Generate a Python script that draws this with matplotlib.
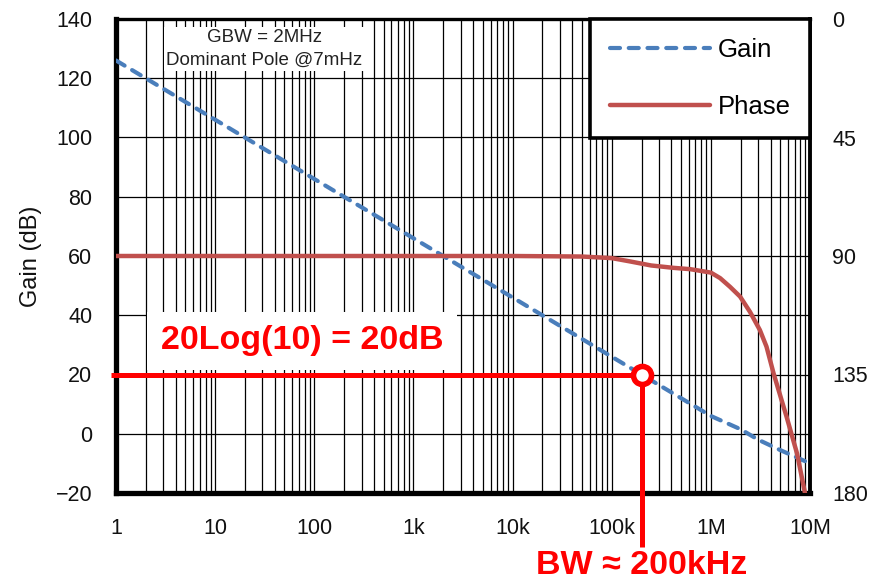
import matplotlib
matplotlib.use("Agg")
import matplotlib.pyplot as plt
import numpy as np

plt.rcParams['font.family'] = ['Liberation Sans', 'DejaVu Sans']

# ---- data ----
gain_freq = [1, 10, 100, 1e3, 1e4, 1e5, 1e6, 2e6, 3e6, 5e6, 1e7]
gain_db = [126, 106, 86, 66, 46, 26, 6, 1.5, -2, -5.5, -10]

phase_freq = [1, 1e3, 1e4, 5e4, 1.0e5, 1.5e5, 2.5e5, 4.2e5, 6.2e5, 1.0e6, 1.24e6, 1.56e6,
              1.97e6, 2.48e6, 3.12e6, 3.64e6, 4.3e6, 5.8e6, 7.4e6, 8.9e6]
phase_deg = [90, 90, 90, 90.2, 90.8, 92.0, 93.6, 94.5, 95.0, 96.3, 98.4, 101.7,
             105.4, 111.2, 118.1, 124.4, 134.7, 151, 165, 180]

xtick_vals = [1, 10, 100, 1e3, 1e4, 1e5, 1e6, 1e7]
xtick_labels = ['1', '10', '100', '1k', '10k', '100k', '1M', '10M']
gain_ticks = [-20, 0, 20, 40, 60, 80, 100, 120, 140]
phase_ticks = [0, 45, 90, 135, 180]

bw_freq = 2e5
bw_gain = 20

blue = '#4A7EBB'
red_phase = '#C0504D'
red = '#FF0000'

fig = plt.figure(figsize=(8.8, 5.81), dpi=100)
ax = fig.add_axes([116/880, 1-493/581, (810-116)/880, (493-19)/581])
ax.set_xscale('log')
ax.set_xlim(1, 1e7)
ax.set_ylim(-20, 140)

# grid
ax.set_yticks(gain_ticks)
ax.set_xticks(xtick_vals)
ax.set_xticklabels(xtick_labels)
ax.xaxis.set_minor_locator(matplotlib.ticker.LogLocator(base=10, subs=np.arange(2, 10), numticks=100))
ax.xaxis.set_minor_formatter(matplotlib.ticker.NullFormatter())
ax.grid(True, which='major', axis='both', color='black', lw=0.9)
ax.grid(True, which='minor', axis='x', color='black', lw=0.9)
ax.tick_params(which='both', length=0)
ax.tick_params(axis='y', pad=17, labelsize=15.5, labelcolor='#111111')
ax.tick_params(axis='x', pad=18, labelsize=15.5, labelcolor='#111111')
ax.set_ylabel('Gain (dB)', fontsize=17, color='#111111', labelpad=10)

for s, lw in (('left', 3.8), ('bottom', 3.8), ('top', 2.4), ('right', 2.8)):
    ax.spines[s].set_linewidth(lw)
    ax.spines[s].set_color('black')

gl, = ax.plot(gain_freq, gain_db, color=blue, lw=3.0,
              linestyle=(0, (2.4, 2.1)), dash_capstyle='round', label='Gain', zorder=4)

# red annotation
ax.plot([0.89, bw_freq], [bw_gain, bw_gain], color=red, lw=3.6, clip_on=False,
        solid_capstyle='butt', zorder=5)
ax.plot([bw_freq, bw_freq], [bw_gain, -38.3], color=red, lw=3.6, clip_on=False,
        solid_capstyle='butt', zorder=5)
ax.plot([bw_freq], [bw_gain], marker='o', ms=13, mew=4, mfc='white', mec=red,
        clip_on=False, zorder=6)

anno_font = ['Liberation Sans', 'DejaVu Sans']
ax.text(10**((302-116)/99.14), 140 - (341-19)/2.9625, '20Log(10) = 20dB',
        color=red, fontsize=24.5, fontweight='bold', family=anno_font,
        ha='center', va='center', zorder=5,
        bbox=dict(facecolor='white', edgecolor='none', boxstyle='square,pad=0.4'))
ax.text(bw_freq, -20 - (565-493)/2.9625, 'BW ≈ 200kHz',
        color=red, fontsize=24.5, fontweight='bold', family=anno_font,
        ha='center', va='center', clip_on=False, zorder=5)

ax.text(10**((264-116)/99.14), 140 - (49-19)/2.9625,
        'GBW = 2MHz\nDominant Pole @7mHz', fontsize=13.5, color='#222222',
        ha='center', va='center', linespacing=1.4, zorder=5,
        bbox=dict(facecolor='white', edgecolor='none', boxstyle='square,pad=0.12'))

# phase axis
ax2 = ax.twinx()
ax2.set_ylim(180, 0)
ax2.set_yticks(phase_ticks)
ax2.tick_params(length=0, pad=16, labelsize=15.5, labelcolor='#111111')
for s in ax2.spines.values():
    s.set_visible(False)
pl, = ax2.plot(phase_freq, phase_deg, color=red_phase, lw=3.2, label='Phase',
               solid_capstyle='round', zorder=4)

leg = ax2.legend(handles=[gl, pl], loc='upper right', bbox_to_anchor=(1.0, 1.0),
                 borderaxespad=0, fontsize=18.5, frameon=True, fancybox=False,
                 handlelength=3.9, handletextpad=0.31, borderpad=0.75,
                 labelspacing=1.27)
leg.get_frame().set_edgecolor('black')
leg.get_frame().set_linewidth(2.6)
leg.get_frame().set_facecolor('white')
leg.get_frame().set_alpha(1)
leg.set_zorder(10)

fig.savefig('out.png', dpi=100)
